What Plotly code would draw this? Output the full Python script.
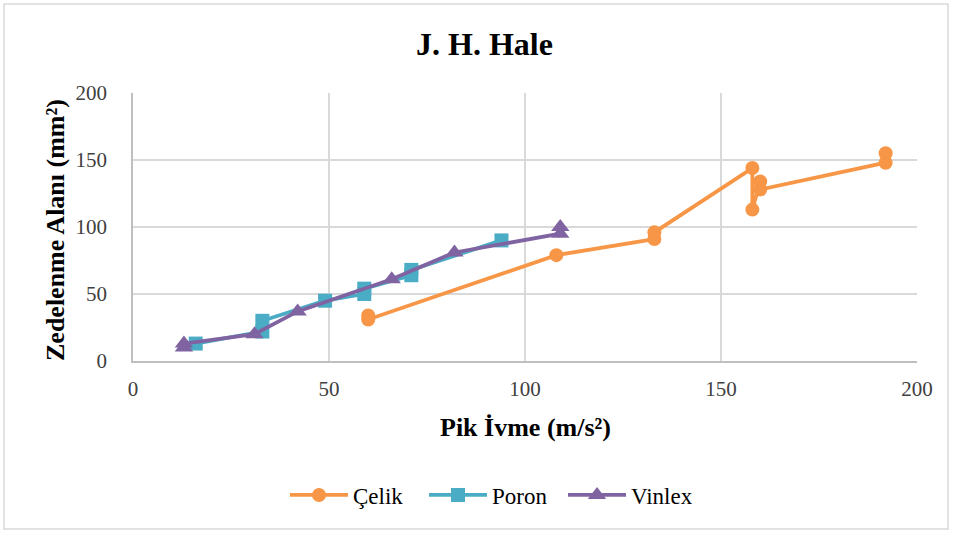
import plotly.graph_objects as go

celik_x = [60, 60, 108, 133, 133, 158, 158, 160, 160, 192, 192]
celik_y = [34, 31, 79, 91, 96, 144, 113, 134, 128, 148, 155]

poron_x = [16, 33, 33, 49, 59, 59, 71, 71, 94]
poron_y = [13, 22, 30, 45, 50, 54, 64, 68, 90]

vinlex_x = [13, 13, 31, 42, 66, 82, 109, 109]
vinlex_y = [10, 13, 20, 37, 61, 81, 95, 100]

series = [
    ("Çelik", celik_x, celik_y, "#F79646", "circle", 14),
    ("Poron", poron_x, poron_y, "#4BACC6", "square", 14),
    ("Vinlex", vinlex_x, vinlex_y, "#8064A2", "triangle-up", 16),
]

FONT = "Liberation Serif"

fig = go.Figure()
for name, xs, ys, col, sym, sz in series:
    fig.add_trace(go.Scatter(
        x=xs, y=ys, name=name, mode="lines+markers",
        line=dict(color=col, width=3.8),
        marker=dict(color=col, symbol=sym, size=sz),
    ))

W, H = 953, 534
L, R, T, B = 133, 36, 93, 173
pw, ph = W - L - R, H - T - B

def px(xp):
    return (xp - L) / pw

def py(yp):
    return (H - B - yp) / ph

fig.update_layout(
    width=W, height=H,
    margin=dict(l=L, r=R, t=T, b=B),
    paper_bgcolor="white", plot_bgcolor="white",
    font=dict(family=FONT, color="#404040", size=21),
    showlegend=True,
    legend=dict(orientation="h", x=px(285), xanchor="left", y=py(495), yanchor="middle",
                font=dict(family=FONT, size=23, color="#000000"),
                itemwidth=58, entrywidth=66, entrywidthmode="pixels",
                tracegroupgap=0, bgcolor="rgba(0,0,0,0)"),
    xaxis=dict(range=[0, 200], dtick=50, showgrid=True, gridcolor="#D9D9D9", gridwidth=1.5,
               zeroline=False, showline=True, linecolor="#BFBFBF", linewidth=1.5,
               ticks="", ticklabelstandoff=8,
               tickfont=dict(family=FONT, size=21, color="#404040")),
    yaxis=dict(range=[0, 200], dtick=50, showgrid=True, gridcolor="#D9D9D9", gridwidth=1.5,
               zeroline=False, showline=True, linecolor="#BFBFBF", linewidth=1.5,
               ticks="", ticklabelstandoff=20,
               tickfont=dict(family=FONT, size=21, color="#404040")),
    annotations=[
        dict(text="<b>J. H. Hale</b>", x=px(484), y=py(44), xref="paper", yref="paper",
             showarrow=False, xanchor="center", yanchor="middle",
             font=dict(family=FONT, size=32, color="#000000")),
        dict(text="<b>Pik İvme (m/s²)</b>", x=px(525), y=py(427), xref="paper", yref="paper",
             showarrow=False, xanchor="center", yanchor="middle",
             font=dict(family=FONT, size=26, color="#000000")),
        dict(text="<b>Zedelenme Alanı (mm²)</b>", x=px(55), y=py(230), xref="paper", yref="paper",
             showarrow=False, xanchor="center", yanchor="middle", textangle=-90,
             font=dict(family=FONT, size=26, color="#000000")),
    ],
    shapes=[
        dict(type="rect", xref="paper", yref="paper",
             x0=px(4), x1=px(948), y0=py(4), y1=py(529),
             line=dict(color="#D9D9D9", width=1.5), fillcolor="rgba(0,0,0,0)", layer="below"),
    ],
)

fig.write_html("out.html")
